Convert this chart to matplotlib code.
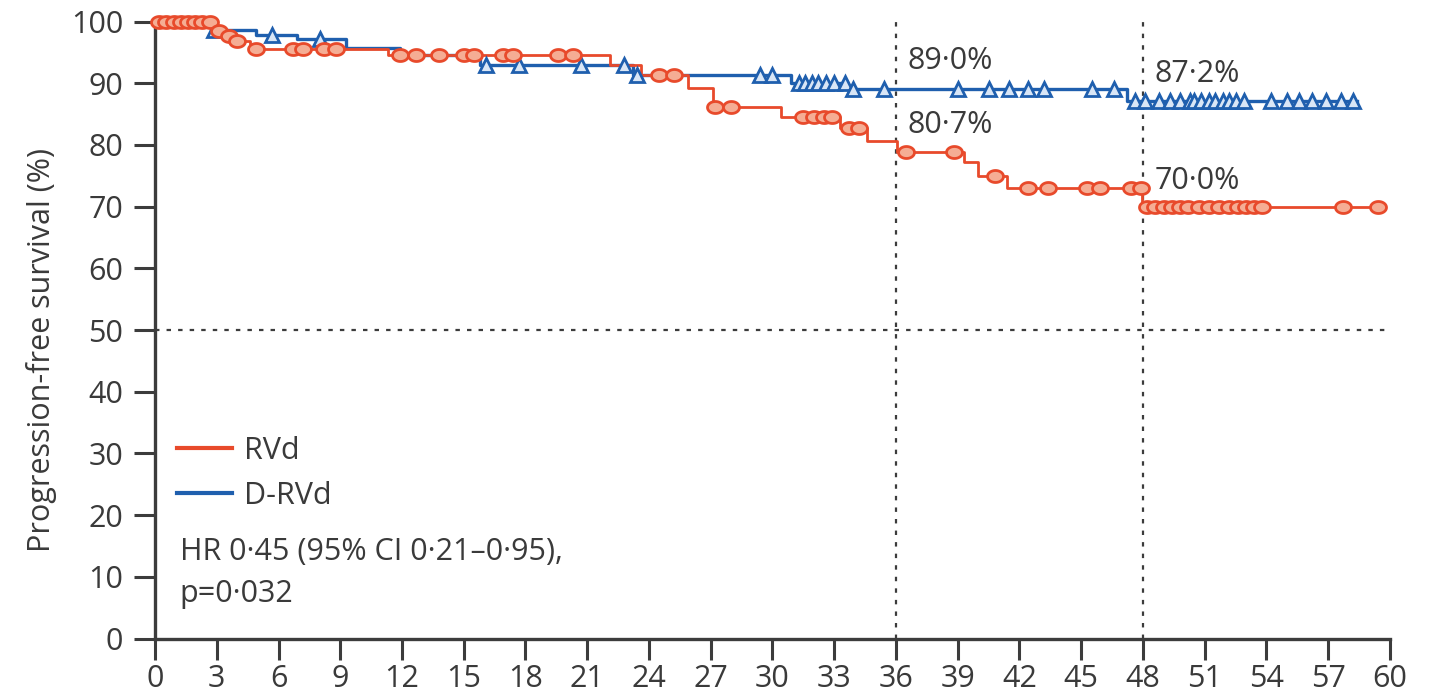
import numpy as np
import matplotlib
matplotlib.use("Agg")
import matplotlib.pyplot as plt
from matplotlib.path import Path
from matplotlib.lines import Line2D

plt.rcParams['font.family'] = ['Open Sans', 'DejaVu Sans']

# Kaplan-Meier step data (months, % progression-free)
rvd_times = [0, 3.0, 3.4, 3.85, 4.6, 11.3, 22.1, 23.6, 25.9, 27.1, 30.4, 33.3,
             34.6, 36.05, 39.3, 40.0, 41.4, 47.95]
rvd_surv = [100, 98.4, 97.6, 96.8, 95.6, 94.6, 93.0, 91.4, 89.3, 86.2, 84.5, 82.8,
            80.7, 78.9, 77.2, 75.0, 73.1, 70.0]
rvd_end = 59.5
rvd_censored = [0.2, 0.55, 0.9, 1.25, 1.6, 1.95, 2.3, 2.65, 3.1, 3.6, 4.0, 4.9,
                6.7, 7.2, 8.2, 8.8, 11.9, 12.7, 13.8, 15.0, 15.5, 16.9, 17.4,
                19.6, 20.3, 24.5, 25.2, 27.2, 28.0, 31.5, 32.0, 32.5, 32.9, 33.7,
                34.2, 36.5, 38.8, 40.8, 42.4, 43.4, 45.3, 45.9, 47.4, 47.9, 48.2,
                48.6, 49.0, 49.4, 49.8, 50.2, 50.7, 51.2, 51.7, 52.2, 52.6, 53.0,
                53.4, 53.8, 57.7, 59.4]

drvd_times = [0, 2.7, 4.9, 6.9, 9.3, 11.9, 15.8, 23.2, 30.9, 33.6, 47.2]
drvd_surv = [100, 98.7, 97.9, 97.1, 95.8, 94.6, 93.0, 91.4, 90.1, 89.0, 87.2]
drvd_end = 58.4
drvd_censored = [2.85, 5.7, 8.0, 16.1, 17.7, 20.7, 22.8, 23.4, 29.4, 30.0, 31.3,
                 31.6, 31.9, 32.2, 32.6, 33.0, 33.5, 33.9, 35.4, 39.0, 40.5, 41.5,
                 42.4, 43.2, 45.5, 46.6, 47.6, 48.1, 48.8, 49.3, 49.8, 50.3, 50.5,
                 50.8, 51.2, 51.5, 51.9, 52.2, 52.5, 52.9, 54.2, 55.0, 55.6, 56.2,
                 56.9, 57.6, 58.2]

landmarks = [36, 48]
landmark_labels = {36: ("89\u00b70%", "80\u00b77%"), 48: ("87\u00b72%", "70\u00b70%")}
x_ticks = list(range(0, 61, 3))
y_ticks = list(range(0, 101, 10))

RED = "#e84a2b"
BLUE = "#1f5fae"
TEXT = "#3a3a3a"
AXIS = "#3c3c3c"
FS = 22


def surv_at(times, surv, t):
    idx = np.searchsorted(np.asarray(times), np.asarray(t), side="right") - 1
    return np.asarray(surv)[idx]


# slightly flattened circle used for censoring ticks
theta = np.linspace(0, 2 * np.pi, 60)
ellipse = Path(np.column_stack([np.cos(theta), 0.75 * np.sin(theta)]), closed=True)

fig = plt.figure(figsize=(14.4, 6.96), dpi=100)
ax = fig.add_axes([155 / 1440, 1 - 638.5 / 696, (1390 - 155) / 1440, (638.5 - 21.6) / 696])

# reference lines
for xv in landmarks:
    ax.axvline(xv, color=AXIS, lw=1.6, ls=(0, (2, 3.2)), zorder=1)
ax.axhline(50, color=AXIS, lw=1.6, ls=(0, (2, 3.2)), zorder=1)

for times, surv, end, cens, col, mk, ms, fill, lw in [
    (drvd_times, drvd_surv, drvd_end, drvd_censored, BLUE, "^", 10.5, "#d9e6f6", 2.4),
    (rvd_times, rvd_surv, rvd_end, rvd_censored, RED, ellipse, 11.5, "#f5ad94", 2.0),
]:
    xs = list(times) + [end]
    ys = list(surv) + [surv[-1]]
    ax.step(xs, ys, where="post", color=col, lw=lw, zorder=3, clip_on=False)
    ax.plot(cens, surv_at(times, surv, cens), ls="none", marker=mk, ms=ms,
            mfc=fill, mec=col, mew=2.0, zorder=4, clip_on=False)

# landmark annotations
label_y = {36: (93.6, 83.2), 48: (91.5, 74.2)}
for xv in landmarks:
    top, bottom = landmark_labels[xv]
    ax.text(xv + 0.55, label_y[xv][0], top, fontsize=FS, color=TEXT, va="center", ha="left")
    ax.text(xv + 0.55, label_y[xv][1], bottom, fontsize=FS, color=TEXT, va="center", ha="left")

ax.set_xlim(0, 60)
ax.set_ylim(0, 100)
ax.set_xticks(x_ticks)
ax.set_yticks(y_ticks)
ax.tick_params(axis="both", length=15, width=2.2, color=AXIS, labelsize=FS,
               labelcolor=TEXT)
ax.tick_params(axis="y", pad=8)
ax.tick_params(axis="x", pad=3.5)
for side in ("top", "right"):
    ax.spines[side].set_visible(False)
for side in ("left", "bottom"):
    ax.spines[side].set_color(AXIS)
    ax.spines[side].set_linewidth(2.4)

ax.set_ylabel("Progression-free survival (%)", fontsize=FS, color=TEXT)
ax.yaxis.set_label_coords(-0.079, 0.468)

handles = [Line2D([], [], color=RED, lw=3), Line2D([], [], color=BLUE, lw=3)]
leg = ax.legend(handles, ["RVd", "D-RVd"], loc="upper left",
                bbox_to_anchor=(0.018, 0.329), frameon=False, fontsize=FS,
                handlelength=1.8, handletextpad=0.4, labelspacing=0.5,
                borderpad=0, borderaxespad=0, labelcolor=TEXT)

ax.text(0.020, 0.140, "HR 0\u00b745 (95% CI 0\u00b721\u20130\u00b795),", transform=ax.transAxes,
        fontsize=FS, color=TEXT, va="center", ha="left")
ax.text(0.020, 0.072, "p=0\u00b7032", transform=ax.transAxes,
        fontsize=FS, color=TEXT, va="center", ha="left")

fig.savefig("out.png", dpi=100)
